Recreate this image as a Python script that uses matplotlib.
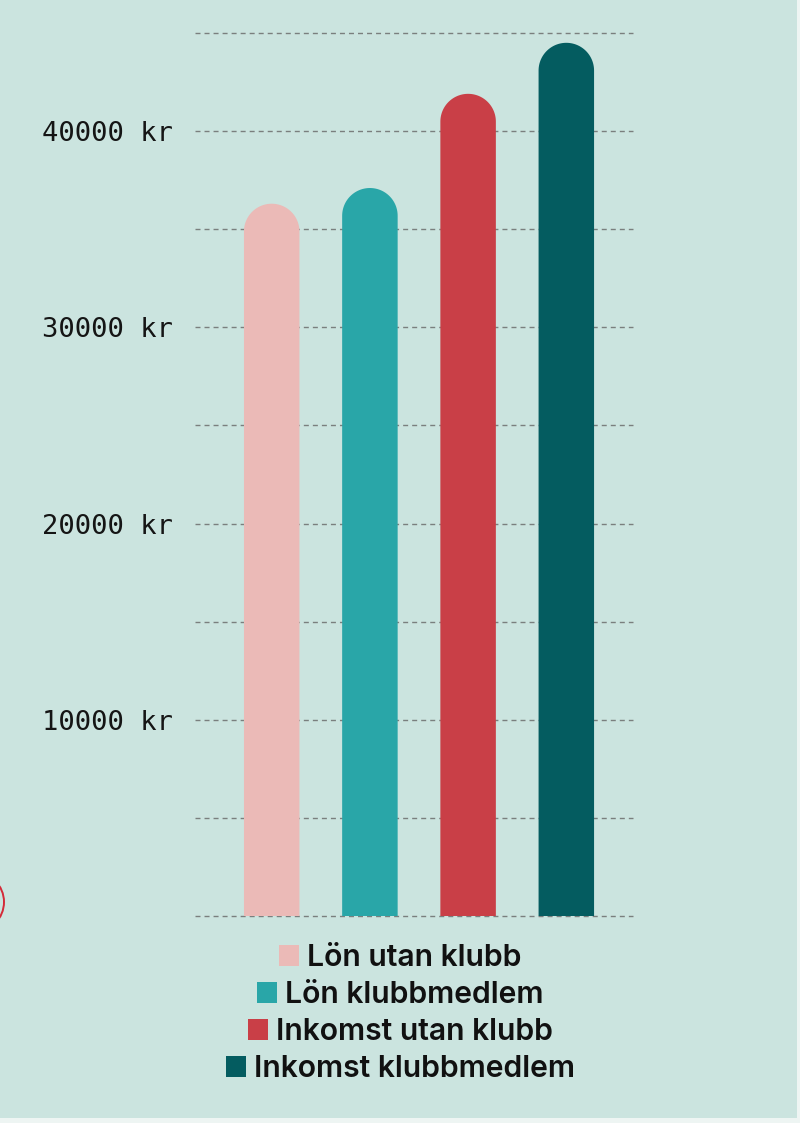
import matplotlib
matplotlib.use("Agg")
import numpy as np
import matplotlib.pyplot as plt
from matplotlib.patches import Rectangle, Ellipse, Patch, PathPatch
from matplotlib.path import Path
from matplotlib.ticker import FixedLocator, FuncFormatter

# ---- data ----
categories = ["Lön utan klubb", "Lön klubbmedlem", "Inkomst utan klubb", "Inkomst klubbmedlem"]
values = [36300, 37100, 41900, 44500]
colors = ["#EBBAB7", "#29A6A8", "#C93F47", "#045C60"]
grid_ticks = [0, 5000, 10000, 15000, 20000, 25000, 30000, 35000, 40000, 45000]
label_ticks = [10000, 20000, 30000, 40000]

BG = "#CBE4DF"
W, H = 800, 1123

fig = plt.figure(figsize=(W / 100, H / 100), dpi=100)
fig.patch.set_facecolor("#EEF5F3")
fig.patches.append(Rectangle((0, 5 / H), 797 / W, 1, transform=fig.transFigure,
                             facecolor=BG, edgecolor="none", zorder=-10))

ax = fig.add_axes([195 / W, (H - 916) / H, (633 - 195) / W, (916 - 33) / H])
ax.set_facecolor("none")
ax.set_ylim(0, 45000)
ax.set_xlim(-0.781, 3.679)
for s in ax.spines.values():
    s.set_visible(False)

ax.yaxis.set_major_locator(FixedLocator(grid_ticks))
ax.yaxis.set_major_formatter(FuncFormatter(
    lambda v, p: f"{int(v)} kr" if int(v) in label_ticks else ""))
ax.tick_params(axis="y", length=0, pad=16, labelsize=19.5, labelcolor="#151515")
for lab in ax.get_yticklabels():
    lab.set_fontfamily("DejaVu Sans Mono")
ax.set_xticks([])
ax.yaxis.grid(True, color="#7A7F7E", linewidth=1.0, linestyle=(0, (3.6, 2.9)))
ax.set_axisbelow(True)
for gl in ax.yaxis.get_gridlines():
    gl.set_clip_on(False)

# rounded-top bars (single path each)
bw = 0.565
fig.canvas.draw()
px_per_x = ax.bbox.width / (ax.get_xlim()[1] - ax.get_xlim()[0])
px_per_y = ax.bbox.height / (ax.get_ylim()[1] - ax.get_ylim()[0])
r_y = (bw / 2) * px_per_x / px_per_y
t = np.linspace(np.pi, 0, 60)
for i, (v, c) in enumerate(zip(values, colors)):
    xs = [i - bw / 2] + list(i + np.cos(t) * bw / 2) + [i + bw / 2]
    ys = [0] + list(v - r_y + np.sin(t) * r_y) + [0]
    verts = list(zip(xs, ys)) + [(xs[0], ys[0])]
    codes = [Path.MOVETO] + [Path.LINETO] * (len(verts) - 2) + [Path.CLOSEPOLY]
    ax.add_patch(PathPatch(Path(verts, codes), facecolor=c, edgecolor="none", zorder=3))

# decorative partial circle at left edge
fig.patches.append(Ellipse((-26 / W, (H - 902) / H), 60 / W, 60 / H, transform=fig.transFigure,
                           facecolor="none", edgecolor="#D42A38", linewidth=1.4))

# legend: one centred row per series
fs = 21.7
fs_px = fs * 100 / 72
rows_y = [958, 995, 1032, 1069]
for cat, col, yy in zip(categories, colors, rows_y):
    leg = fig.legend(handles=[Patch(facecolor=col, edgecolor="none")], labels=[cat],
                     loc="center", bbox_to_anchor=(0.5, (H - yy) / H),
                     bbox_transform=fig.transFigure, frameon=False,
                     handlelength=20 / fs_px, handleheight=20 / fs_px,
                     handletextpad=8 / fs_px, borderpad=0, borderaxespad=0,
                     prop={"family": "Inter", "weight": 600, "size": fs})
    for tx in leg.get_texts():
        tx.set_color("#111111")

fig.savefig("out.png", dpi=100, facecolor=fig.get_facecolor())
